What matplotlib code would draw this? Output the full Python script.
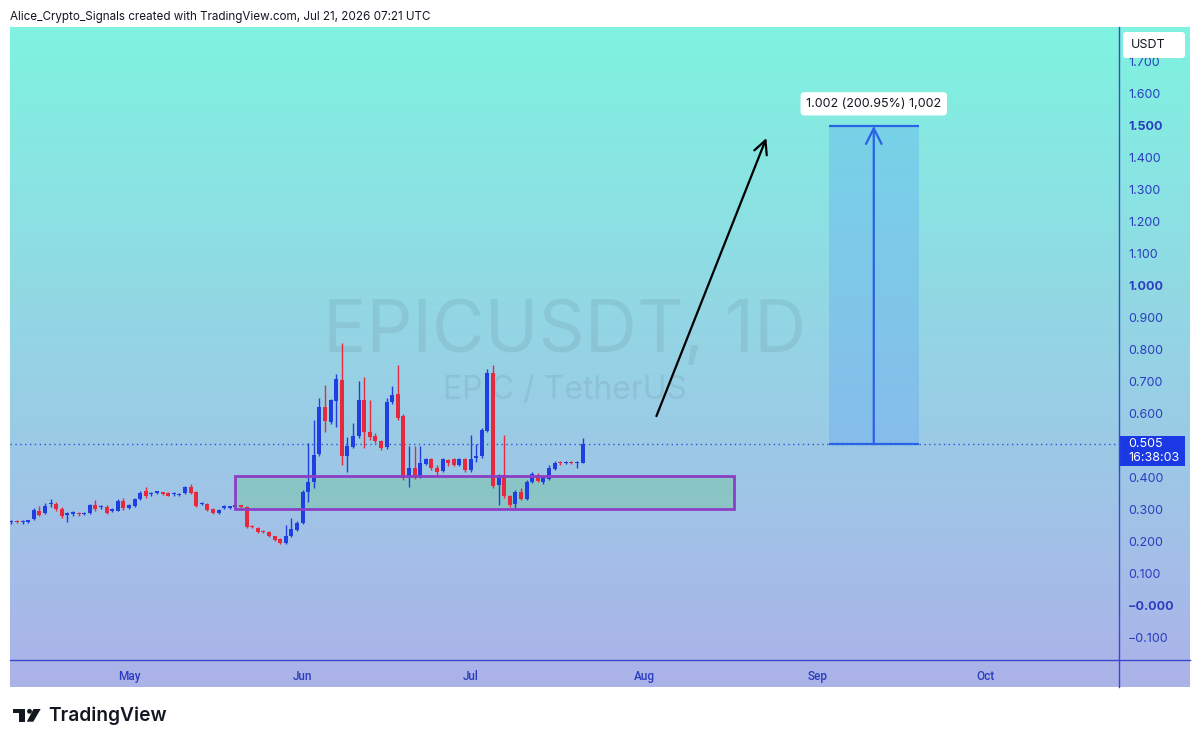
import numpy as np
import pandas as pd
import matplotlib
matplotlib.use('Agg')
import matplotlib.pyplot as plt
import matplotlib.dates as mdates
from matplotlib.patches import Rectangle, FancyBboxPatch, Circle, Polygon
from matplotlib.transforms import blended_transform_factory

plt.rcParams['font.family'] = ['Inter', 'DejaVu Sans']

# Daily EPICUSDT candles, Apr 10 - Jul 21
dates = pd.date_range('2026-04-10', periods=103, freq='D')
opens = [0.262, 0.265, 0.262, 0.263, 0.272, 0.298, 0.290, 0.318, 0.319, 0.303,
         0.285, 0.288, 0.289, 0.286, 0.290, 0.316, 0.309, 0.310, 0.298, 0.298,
         0.329, 0.305, 0.313, 0.334, 0.360, 0.349, 0.354, 0.353, 0.352, 0.349,
         0.347, 0.354, 0.372, 0.357, 0.319, 0.319, 0.303, 0.290, 0.307, 0.307,
         0.310, 0.311, 0.310, 0.249, 0.244, 0.233, 0.232, 0.217, 0.209, 0.196,
         0.218, 0.237, 0.258, 0.357, 0.388, 0.475, 0.622, 0.576, 0.641, 0.706,
         0.469, 0.498, 0.531, 0.642, 0.542, 0.531, 0.514, 0.496, 0.638, 0.662,
         0.592, 0.402, 0.430, 0.404, 0.444, 0.458, 0.430, 0.423, 0.455, 0.458,
         0.440, 0.458, 0.425, 0.462, 0.467, 0.548, 0.729, 0.378, 0.409, 0.344,
         0.319, 0.357, 0.333, 0.388, 0.410, 0.387, 0.396, 0.427, 0.449, 0.447,
         0.449, 0.446, 0.448]
highs = [0.270, 0.268, 0.268, 0.270, 0.305, 0.312, 0.322, 0.335, 0.325, 0.308,
         0.295, 0.296, 0.294, 0.294, 0.320, 0.330, 0.315, 0.314, 0.305, 0.333,
         0.338, 0.320, 0.338, 0.358, 0.372, 0.356, 0.360, 0.357, 0.355, 0.355,
         0.353, 0.376, 0.380, 0.360, 0.326, 0.322, 0.306, 0.303, 0.314, 0.313,
         0.315, 0.316, 0.312, 0.253, 0.247, 0.238, 0.235, 0.220, 0.212, 0.253,
         0.275, 0.265, 0.362, 0.510, 0.580, 0.650, 0.690, 0.648, 0.725, 0.823,
         0.529, 0.573, 0.704, 0.715, 0.644, 0.540, 0.520, 0.650, 0.686, 0.753,
         0.600, 0.500, 0.500, 0.500, 0.462, 0.462, 0.440, 0.462, 0.460, 0.462,
         0.462, 0.462, 0.534, 0.506, 0.556, 0.740, 0.753, 0.412, 0.534, 0.348,
         0.362, 0.370, 0.392, 0.418, 0.414, 0.406, 0.440, 0.453, 0.452, 0.452,
         0.452, 0.454, 0.524]
lows = [0.256, 0.258, 0.257, 0.260, 0.268, 0.280, 0.286, 0.310, 0.298, 0.276,
        0.262, 0.282, 0.282, 0.283, 0.288, 0.298, 0.304, 0.286, 0.294, 0.296,
        0.300, 0.302, 0.310, 0.330, 0.338, 0.344, 0.350, 0.347, 0.342, 0.343,
        0.343, 0.350, 0.350, 0.310, 0.314, 0.296, 0.286, 0.287, 0.303, 0.304,
        0.306, 0.306, 0.245, 0.242, 0.228, 0.228, 0.214, 0.203, 0.195, 0.193,
        0.215, 0.233, 0.255, 0.326, 0.370, 0.468, 0.545, 0.570, 0.560, 0.440,
        0.417, 0.492, 0.525, 0.494, 0.520, 0.508, 0.488, 0.490, 0.632, 0.580,
        0.395, 0.373, 0.398, 0.400, 0.440, 0.426, 0.410, 0.420, 0.437, 0.436,
        0.436, 0.420, 0.420, 0.450, 0.462, 0.545, 0.370, 0.315, 0.338, 0.310,
        0.305, 0.330, 0.330, 0.384, 0.386, 0.380, 0.392, 0.424, 0.440, 0.443,
        0.442, 0.430, 0.446]
closes = [0.264, 0.262, 0.264, 0.268, 0.300, 0.284, 0.312, 0.320, 0.303, 0.280,
          0.287, 0.290, 0.287, 0.291, 0.316, 0.302, 0.311, 0.290, 0.301, 0.329,
          0.305, 0.316, 0.334, 0.354, 0.342, 0.351, 0.356, 0.351, 0.345, 0.351,
          0.349, 0.372, 0.354, 0.313, 0.321, 0.300, 0.290, 0.300, 0.309, 0.309,
          0.311, 0.310, 0.248, 0.246, 0.232, 0.231, 0.217, 0.206, 0.198, 0.217,
          0.240, 0.260, 0.357, 0.388, 0.472, 0.622, 0.579, 0.642, 0.709, 0.469,
          0.500, 0.531, 0.642, 0.542, 0.527, 0.514, 0.493, 0.638, 0.659, 0.587,
          0.399, 0.430, 0.402, 0.446, 0.458, 0.430, 0.420, 0.458, 0.448, 0.440,
          0.458, 0.425, 0.460, 0.469, 0.550, 0.729, 0.375, 0.409, 0.342, 0.316,
          0.357, 0.333, 0.388, 0.413, 0.390, 0.402, 0.430, 0.448, 0.447, 0.449,
          0.446, 0.450, 0.505]

last_price = 0.505
countdown = '16:38:03'

# drawings
zone_start, zone_end = '2026-05-20', '2026-08-17'
zone_low, zone_high = 0.303, 0.406
arrow_from = ('2026-08-03', 0.585)
arrow_to = ('2026-08-23', 1.47)
measure_start, measure_end = '2026-09-03', '2026-09-19'
measure_low, measure_high = 0.505, 1.500
measure_label = '1.002 (200.95%) 1,002'

y_ticks = [-0.1, 0.0, 0.1, 0.2, 0.3, 0.4, 0.5, 0.6, 0.7, 0.8, 0.9,
           1.0, 1.1, 1.2, 1.3, 1.4, 1.5, 1.6, 1.7]
y_labels = ['\u22120.100', '\u22120.000', '0.100', '0.200', '0.300', '0.400', '', '0.600',
            '0.700', '0.800', '0.900', '1.000', '1.100', '1.200', '1.300', '1.400',
            '1.500', '1.600', '1.700']
bold_labels = ['\u22120.000', '1.000', '1.500']

# Colours
UP = '#1f3fe0'
DOWN = '#e8283c'
AXIS = '#3a48cc'
LABEL = '#2a3cc0'
W, H = 1200, 747

fig = plt.figure(figsize=(12, 7.47), dpi=100)

# gradient background (pane + scales)
bg = fig.add_axes([10 / W, 1 - 687 / H, 1180 / W, 660 / H])
top = np.array([127, 243, 224]) / 255
bot = np.array([172, 178, 233]) / 255
t = np.linspace(0, 1, 256)[:, None]
grad = (1 - t) * top + t * bot
bg.imshow(grad[:, None, :].repeat(2, axis=1), aspect='auto', extent=[0, 1, 0, 1])
bg.axis('off')

ax = fig.add_axes([10 / W, 1 - 660 / H, 1109 / W, 633 / H])
ax.set_facecolor('none')
for s in ax.spines.values():
    s.set_visible(False)

x = mdates.date2num(dates)
o = np.array(opens); c = np.array(closes)
up = c >= o
cols = np.where(up, UP, DOWN)
body_low = np.minimum(o, c)
body_h = np.maximum(np.abs(c - o), 0.004)

# watermark
ax.text(0.5, 0.5166, 'EPICUSDT, 1D', transform=ax.transAxes, ha='center', va='center',
        fontsize=52, color='#4a6070', alpha=0.12, zorder=1)
ax.text(0.5, 0.4265, 'EPIC / TetherUS', transform=ax.transAxes, ha='center', va='center',
        fontsize=23, color='#4a6070', alpha=0.12, zorder=1)

ax.vlines(x, lows, highs, colors=cols, lw=1, zorder=3)
ax.bar(x, body_h, bottom=body_low, width=0.72, color=cols, zorder=4)

# last price dotted line
ax.axhline(last_price, color='#3550d8', lw=1, ls=(0, (1, 2.5)), zorder=2)

# support zone
zs, ze = mdates.datestr2num(zone_start), mdates.datestr2num(zone_end)
ax.add_patch(Rectangle((zs, zone_low), ze - zs, zone_high - zone_low,
                       fc=(0.45, 0.78, 0.62), alpha=0.45, ec='none', zorder=2))
ax.add_patch(Rectangle((zs, zone_low), ze - zs, zone_high - zone_low,
                       fc='none', ec='#8c3fc6', lw=2, zorder=5))

# target arrow
ax.annotate('', xy=(mdates.datestr2num(arrow_to[0]), arrow_to[1]),
            xytext=(mdates.datestr2num(arrow_from[0]), arrow_from[1]),
            arrowprops=dict(arrowstyle='->', color='black', lw=1.6, mutation_scale=24),
            zorder=6)

# measure tool
ms, me = mdates.datestr2num(measure_start), mdates.datestr2num(measure_end)
mc = (ms + me) / 2
ax.add_patch(Rectangle((ms, measure_low), me - ms, measure_high - measure_low,
                       fc='#5aa2f5', alpha=0.32, ec='none', zorder=2))
ax.hlines([measure_low, measure_high], ms, me, colors='#2a62e6', lw=1.6, zorder=5)
ax.annotate('', xy=(mc, measure_high), xytext=(mc, measure_low),
            arrowprops=dict(arrowstyle='->', color='#2a62e6', lw=1.6, mutation_scale=28,
                            shrinkA=0, shrinkB=0), zorder=5)
ax.text(mc, measure_high + 0.069, measure_label, ha='center', va='center', fontsize=9,
        color='#131722', zorder=7,
        bbox=dict(boxstyle='round,pad=0.45,rounding_size=0.3', fc='white', ec='none'))

ax.set_xlim(mdates.datestr2num('2026-04-09 18:00'), mdates.datestr2num('2026-10-24 19:00'))
ax.set_ylim(-0.169, 1.809)

ax.xaxis.set_major_locator(mdates.MonthLocator())
ax.xaxis.set_major_formatter(mdates.DateFormatter('%b'))
ax.tick_params(axis='x', length=0, pad=7, labelsize=8.5, labelcolor=LABEL)
for lab in ax.get_xticklabels():
    lab.set_fontfamily(['Roboto', 'DejaVu Sans'])
    lab.set_fontweight('medium')

ax.yaxis.tick_right()
ax.set_yticks(y_ticks)
ax.set_yticklabels(y_labels)
ax.tick_params(axis='y', length=0, pad=6.5, labelsize=9, labelcolor=LABEL)
for lab in ax.get_yticklabels():
    if lab.get_text() in bold_labels:
        lab.set_fontweight('bold')

# price tag on the scale
tr = blended_transform_factory(ax.transAxes, ax.transData)
ax.add_patch(Rectangle((1.001, last_price - 0.068), 0.0585, 0.094, transform=tr,
                       fc='#1a38e4', ec='none', clip_on=False, zorder=8))
ax.text(1.0085, last_price, f'{last_price:.3f}', transform=tr, ha='left', va='center',
        fontsize=9, color='white', clip_on=False, zorder=9)
ax.text(1.0085, last_price - 0.044, countdown, transform=tr, ha='left', va='center',
        fontsize=9, color='white', clip_on=False, zorder=9)

# overlay in pixel coordinates: scale lines, header, logo
ov = fig.add_axes([0, 0, 1, 1])
ov.set_xlim(0, W); ov.set_ylim(H, 0)
ov.axis('off')
ov.set_facecolor('none')
ov.plot([10, 1190], [660, 660], color=AXIS, lw=1)
ov.plot([1119, 1119], [27, 687], color=AXIS, lw=1)

ov.add_patch(FancyBboxPatch((1123, 32), 62, 26, boxstyle='round,pad=0,rounding_size=3',
                            fc='white', ec='none', zorder=5))
ov.text(1131, 45, 'USDT', ha='left', va='center', fontsize=9, color='#131722', zorder=6)

ov.text(10, 17, 'Alice_Crypto_Signals created with TradingView.com, Jul 21, 2026 07:21 UTC',
        ha='left', va='center', fontsize=8.4, color='#131722')

# TradingView logo
ov.add_patch(Polygon([(12.7, 709), (25, 709), (25, 721.7), (19.3, 721.7), (19.3, 713.3), (12.7, 713.3)],
                     closed=True, fc='#131722', ec='none'))
ov.add_patch(Circle((29.5, 711.3), 2.4, fc='#131722', ec='none'))
ov.add_patch(Polygon([(33.5, 709), (40.7, 709), (33.3, 721.7), (26.8, 721.7)],
                     closed=True, fc='#131722', ec='none'))
ov.text(48, 716, 'TradingView', ha='left', va='center', fontsize=13.8, fontweight='semibold',
        color='#131722')

fig.savefig('out.png', dpi=100, facecolor='white')
